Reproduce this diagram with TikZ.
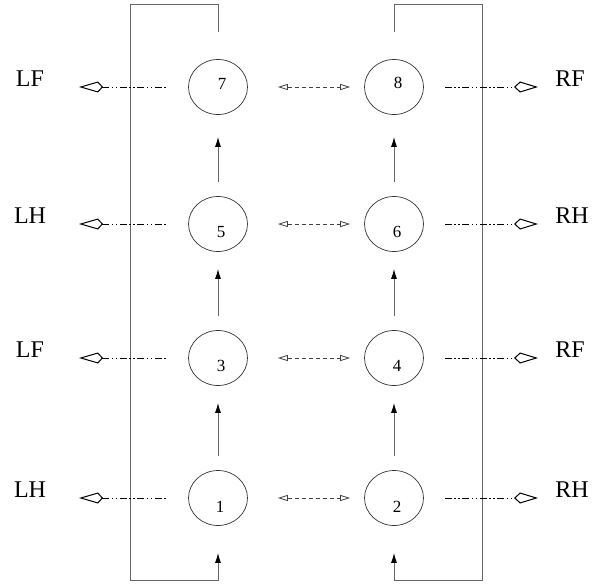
\documentclass[tikz,border=0pt]{standalone}
\usepackage{fontspec}
\setmainfont{Liberation Serif}
\usetikzlibrary{arrows.meta,shapes.geometric}
\begin{document}
\begin{tikzpicture}[x=1pt,y=-1pt,
  state/.style={draw=black!80, line width=0.7pt, ellipse, minimum width=59pt, minimum height=55pt, inner sep=0pt},
  num/.style={font=\fontsize{17}{17}\selectfont, inner sep=0pt},
  side/.style={font=\fontsize{24}{24}\selectfont, inner sep=0pt},
  frame/.style={draw=black!60, line width=1pt},
  up/.style={draw=black!60, line width=1pt, -{Latex[length=10pt,width=6pt,black]}},
  dashdot/.style={draw=black, line width=0.9pt, dash pattern=on 7pt off 2.5pt on 1.5pt off 2.5pt on 1.5pt off 2.5pt},
  lkite/.style={{Kite[open,length=24pt,width=11pt,inset=5pt,line width=1pt]}-},
  rkite/.style={-{Kite[open,length=24pt,width=11pt,inset=6pt,line width=1pt]}},
  link/.style={draw=black!75, line width=0.8pt, dash pattern=on 4pt off 3pt, {Triangle[open,length=10pt,width=6pt]}-{Triangle[open,length=10pt,width=6pt]}}
]
\useasboundingbox (0,0) rectangle (593,583);

% states
\node[state] (n7) at (218,87) {};
\node[state] (n8) at (394,87) {};
\node[state] (n5) at (218,224) {};
\node[state] (n6) at (394,224) {};
\node[state] (n3) at (218,358) {};
\node[state] (n4) at (394,358) {};
\node[state] (n1) at (218,498) {};
\node[state] (n2) at (394,498) {};

% numbers
\node[num] (t7) at ([xshift=4pt,yshift=3pt]n7.center) {7};
\node[num] (t8) at ([xshift=4pt,yshift=4pt]n8.center) {8};
\node[num] (t5) at ([xshift=3pt,yshift=-8pt]n5.center) {5};
\node[num] (t6) at ([xshift=3pt,yshift=-8pt]n6.center) {6};
\node[num] (t3) at ([xshift=3pt,yshift=-8pt]n3.center) {3};
\node[num] (t4) at ([xshift=3pt,yshift=-8pt]n4.center) {4};
\node[num] (t1) at ([xshift=2pt,yshift=-9pt]n1.center) {1};
\node[num] (t2) at ([xshift=3pt,yshift=-9pt]n2.center) {2};

% side labels
\node[side] (l7) at (30,79) {LF};
\node[side] (l5) at (30,216) {LH};
\node[side] (l3) at (30,350) {LF};
\node[side] (l1) at (30,490) {LH};
\node[side] (r8) at (570,79) {RF};
\node[side] (r6) at (572,216) {RH};
\node[side] (r4) at (570,350) {RF};
\node[side] (r2) at (572,490) {RH};

% kite end points
\coordinate (k7) at (79,87);
\coordinate (k5) at (79,224);
\coordinate (k3) at (79,358);
\coordinate (k1) at (79,498);
\coordinate (q8) at (538,87);
\coordinate (q6) at (538,224);
\coordinate (q4) at (538,358);
\coordinate (q2) at (538,498);

% loop corners
\coordinate (tl) at (130,5);
\coordinate (bl) at (130,580);
\coordinate (tr) at (482,5);
\coordinate (br) at (482,580);

% feedback frames
\draw[frame, -{Latex[length=10pt,width=6pt,black]}] ([yshift=27pt]n7.north) |- (tl) -- (bl) -| ([yshift=-27pt]n1.south);
\draw[frame, -{Latex[length=10pt,width=6pt,black]}] ([yshift=27pt]n8.north) |- (tr) -- (br) -| ([yshift=-27pt]n2.south);

% upward arrows
\draw[up] ([yshift=14pt]n1.north) -- ([yshift=-17pt]n3.south);
\draw[up] ([yshift=14pt]n3.north) -- ([yshift=-17pt]n5.south);
\draw[up] ([yshift=14pt]n5.north) -- ([yshift=-22pt]n7.south);
\draw[up] ([yshift=14pt]n2.north) -- ([yshift=-17pt]n4.south);
\draw[up] ([yshift=14pt]n4.north) -- ([yshift=-17pt]n6.south);
\draw[up] ([yshift=14pt]n6.north) -- ([yshift=-22pt]n8.south);

% links between columns
\draw[link] ([xshift=30pt]n7.east) -- ([xshift=-14pt]n8.west);
\draw[link] ([xshift=30pt]n5.east) -- ([xshift=-14pt]n6.west);
\draw[link] ([xshift=30pt]n3.east) -- ([xshift=-14pt]n4.west);
\draw[link] ([xshift=30pt]n1.east) -- ([xshift=-14pt]n2.west);

% left outputs
\draw[dashdot, lkite] (k7) -- ([xshift=-21pt]n7.west);
\draw[dashdot, lkite] (k5) -- ([xshift=-21pt]n5.west);
\draw[dashdot, lkite] (k3) -- ([xshift=-21pt]n3.west);
\draw[dashdot, lkite] (k1) -- ([xshift=-21pt]n1.west);

% right outputs
\draw[dashdot, rkite] ([xshift=21pt]n8.east) -- (q8);
\draw[dashdot, rkite] ([xshift=21pt]n6.east) -- (q6);
\draw[dashdot, rkite] ([xshift=21pt]n4.east) -- (q4);
\draw[dashdot, rkite] ([xshift=21pt]n2.east) -- (q2);
\end{tikzpicture}
\end{document}
